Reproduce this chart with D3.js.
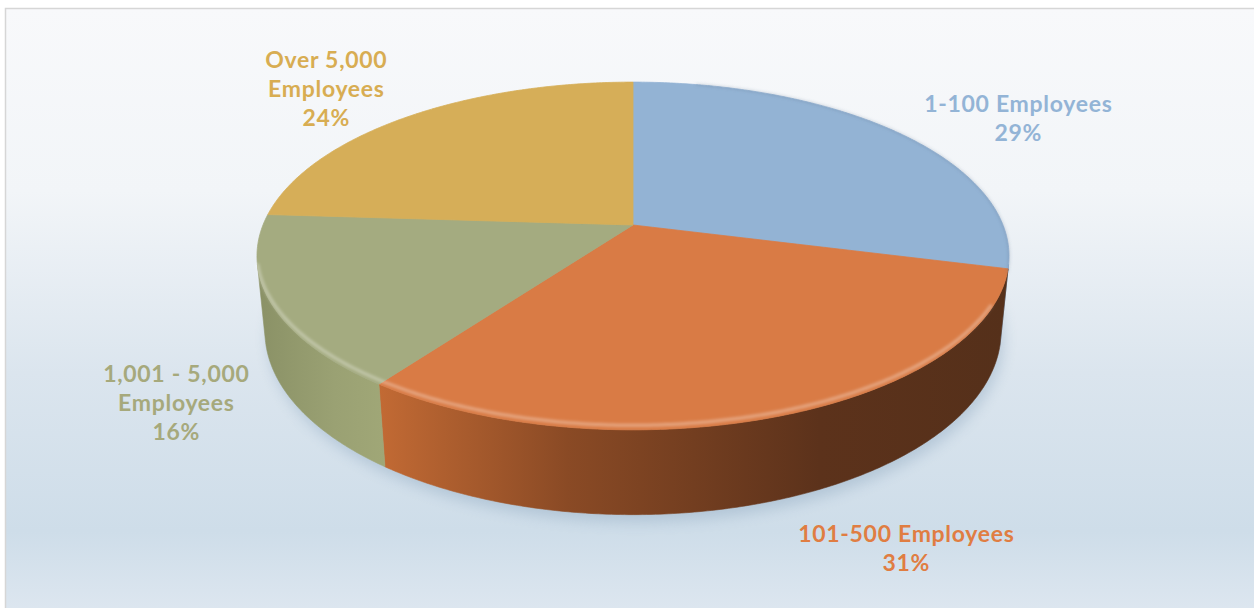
<!DOCTYPE html>
<html>
<head>
<meta charset="utf-8">
<script src="https://cdn.jsdelivr.net/npm/d3@7"></script>
<style>
  html, body { margin: 0; padding: 0; background: #ffffff; }
  svg { display: block; }
</style>
</head>
<body>
<svg id="chart" width="1254" height="608"></svg>
<script>
// Company size breakdown
const categories = ["1-100 Employees", "101-500 Employees", "1,001 - 5,000 Employees", "Over 5,000 Employees"];
const values = [29, 31, 16, 24];
const labelLines = [
  ["1-100 Employees"],
  ["101-500 Employees"],
  ["1,001 - 5,000", "Employees"],
  ["Over 5,000", "Employees"]
];

const topColors  = ["#93b3d4", "#d97b45", "#a4ab80", "#d6ae58"];
const textColors = ["#93b4d6", "#e07d42", "#a6a97c", "#d8ad52"];
const sideStops = [
  [["#8aa9c8", 0], ["#6d8aa8", 1]],
  [["#c26a34", 0], ["#8a4a25", 0.3], ["#5c321b", 0.7], ["#55301a", 1]],
  [["#8a9166", 0], ["#9aa173", 0.6], ["#a0a777", 1]],
  [["#b8944a", 0], ["#a8873f", 1]]
];

const W = 1254, H = 608;
const svg = d3.select("#chart");
const defs = svg.append("defs");

// Background panel
const bg = defs.append("linearGradient").attr("id", "bgGrad")
  .attr("x1", 0).attr("y1", 0).attr("x2", 0).attr("y2", 1);
[["#f8f9fb", 0], ["#f2f5f8", 0.3], ["#dbe5ee", 0.6], ["#cedde9", 0.86], ["#dee7f0", 1]]
  .forEach(([c, o]) => bg.append("stop").attr("offset", o).attr("stop-color", c));
svg.append("rect").attr("x", 5.5).attr("y", 8.5).attr("width", W).attr("height", H)
  .attr("fill", "url(#bgGrad)").attr("stroke", "#d6d6d6").attr("stroke-width", 1.5);

// Perspective camera for the tilted disc
const cx = 633, cy = 225;
const focal = 1850, dist = 5.0;
const sinP = 0.455, cosP = Math.sqrt(1 - sinP * sinP);
const thick = 0.23;

function proj(a, r, h) {
  const u = r * Math.sin(a), v = -r * Math.cos(a);
  const zc = v * cosP + h * sinP;
  const den = dist - zc;
  return [cx + focal * u / den, cy + focal * (v * sinP - h * cosP) / den];
}

function arcPts(a0, a1, h) {
  const n = Math.max(2, Math.ceil(Math.abs(a1 - a0) / 0.01));
  return d3.range(n + 1).map(i => proj(a0 + (a1 - a0) * i / n, 1, h));
}

const pie = d3.pie().sort(null).value(d => d)(values);
const line = d3.line();

// Rim visibility limits on the cylinder wall
const aVis0 = Math.acos(-1 / (dist * cosP));
const aVis1 = 2 * Math.PI - aVis0;

// Soft shadow under the disc
const shadowF = defs.append("filter").attr("id", "shadow")
  .attr("x", -0.2).attr("y", -0.2).attr("width", 1.4).attr("height", 1.4);
shadowF.append("feGaussianBlur").attr("stdDeviation", 7);
svg.append("path")
  .attr("d", line(arcPts(0, 2 * Math.PI, -thick - 0.01)) + "Z")
  .attr("transform", "translate(3,4)")
  .attr("fill", "#8fa8bf").attr("opacity", 0.45)
  .attr("filter", "url(#shadow)");

// Side walls
pie.forEach((d, i) => {
  const s = Math.max(d.startAngle, aVis0), e = Math.min(d.endAngle, aVis1);
  if (e <= s) return;
  const top = arcPts(s, e, 0);
  const bot = arcPts(e, s, -thick);
  const xs = top.concat(bot).map(p => p[0]);
  const g = defs.append("linearGradient").attr("id", "side" + i)
    .attr("gradientUnits", "userSpaceOnUse")
    .attr("x1", d3.min(xs)).attr("x2", d3.max(xs)).attr("y1", 0).attr("y2", 0);
  sideStops[i].forEach(([c, o]) => g.append("stop").attr("offset", o).attr("stop-color", c));
  svg.append("path")
    .attr("d", line(top.concat(bot)) + "Z")
    .attr("fill", "url(#side" + i + ")")
    .attr("stroke", "url(#side" + i + ")").attr("stroke-width", 0.6);
});

// Top faces
pie.forEach((d, i) => {
  const pts = [proj(0, 0, 0)].concat(arcPts(d.startAngle, d.endAngle, 0));
  svg.append("path")
    .attr("d", line(pts) + "Z")
    .attr("fill", topColors[i])
    .attr("stroke", topColors[i]).attr("stroke-width", 0.8)
    .attr("stroke-linejoin", "round");
});

// Bevel highlight along the front rim
const bevelF = defs.append("filter").attr("id", "bevel")
  .attr("x", -0.1).attr("y", -0.5).attr("width", 1.2).attr("height", 2);
bevelF.append("feGaussianBlur").attr("stdDeviation", 1.6);
svg.append("path")
  .attr("d", line(arcPts(aVis0 + 0.25, aVis1 - 0.02, 0.012)))
  .attr("fill", "none").attr("stroke", "#ffffff").attr("stroke-opacity", 0.35)
  .attr("stroke-width", 3).attr("filter", "url(#bevel)");
svg.append("path")
  .attr("d", line(arcPts(0.2, aVis0 + 0.05, 0)))
  .attr("fill", "none").attr("stroke", "#5f7690").attr("stroke-opacity", 0.35)
  .attr("stroke-width", 1.6).attr("filter", "url(#bevel)");

// Data labels
const labelPos = [[1018, 112], [906, 542], [176, 382], [326, 68]];
const lineH = 29;
const font = "'Lato', 'Open Sans', sans-serif";
pie.forEach((d, i) => {
  const lines = labelLines[i].concat([d3.format(".0f")(values[i]) + "%"]);
  const t = svg.append("text")
    .attr("text-anchor", "middle")
    .attr("font-family", font)
    .attr("font-weight", 700)
    .attr("font-size", 23)
    .attr("letter-spacing", 0.7)
    .attr("fill", textColors[i]);
  lines.forEach((ln, k) => {
    t.append("tspan").attr("x", labelPos[i][0] + 0.35).attr("y", labelPos[i][1] + k * lineH).text(ln);
  });
});
</script>
</body>
</html>
